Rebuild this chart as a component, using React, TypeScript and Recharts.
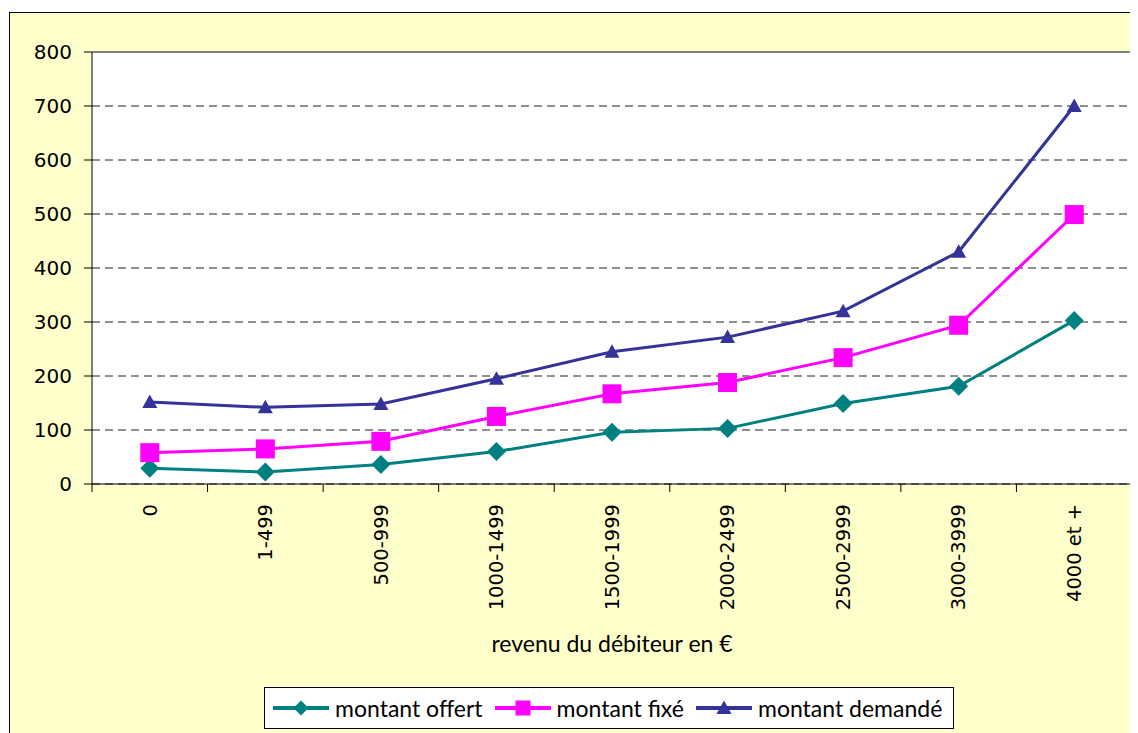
import React from 'react';
import { LineChart, Line, XAxis, YAxis, CartesianGrid, ReferenceLine } from 'recharts';

const categories = ['0', '1-499', '500-999', '1000-1499', '1500-1999', '2000-2499', '2500-2999', '3000-3999', '4000 et +'];
const montantOffert = [29, 22, 36, 60, 96, 103, 149, 181, 303];
const montantFixe = [58, 65, 79, 125, 167, 188, 234, 294, 499];
const montantDemande = [152, 142, 148, 195, 245, 272, 320, 430, 700];
const yTicks = [0, 100, 200, 300, 400, 500, 600, 700, 800];

const TEAL = '#008080';
const MAGENTA = '#FF00FF';
const NAVY = '#333399';

const data = categories.map((c, i) => ({
  cat: c,
  offert: montantOffert[i],
  fixe: montantFixe[i],
  demande: montantDemande[i],
}));

const Diamond = ({ cx, cy, s = 9.5, color }: any) => (
  <polygon points={`${cx},${cy - s} ${cx + s},${cy} ${cx},${cy + s} ${cx - s},${cy}`} fill={color} />
);
const Square = ({ cx, cy, s = 9.5, color }: any) => (
  <rect x={cx - s} y={cy - s} width={s * 2} height={s * 2} fill={color} />
);
const Triangle = ({ cx, cy, s = 7.5, color }: any) => (
  <polygon points={`${cx},${cy - s} ${cx + s},${cy + s * 0.8} ${cx - s},${cy + s * 0.8}`} fill={color} />
);

const XTick = (props: any) => {
  const { x, y, payload, index } = props;
  const half = payload && payload.offset ? payload.offset : 0;
  const axisY = y - 20;
  return (
    <g>
      <line x1={x - half} y1={axisY} x2={x - half} y2={axisY + 8} stroke="#000" />
      {index === categories.length - 1 && (
        <line x1={x + half} y1={axisY} x2={x + half} y2={axisY + 8} stroke="#000" />
      )}
      <text
        x={x}
        y={y}
        dy="0.35em"
        textAnchor="end"
        transform={`rotate(-90, ${x}, ${y})`}
        fontFamily="DejaVu Sans"
        fontSize={19.5}
        fill="#000"
      >
        {payload.value}
      </text>
    </g>
  );
};

const LegendItem = ({ color, label, Shape }: any) => (
  <div style={{ display: 'flex', alignItems: 'center', marginRight: 12 }}>
    <svg width={56} height={22}>
      <line x1={0} y1={11} x2={56} y2={11} stroke={color} strokeWidth={4} />
      <Shape cx={28} cy={11} color={color} s={7.5} />
    </svg>
    <span style={{ marginLeft: 6 }}>{label}</span>
  </div>
);

export default function App() {
  return (
    <div style={{ position: 'relative', width: 1130, height: 725, overflow: 'hidden' }}>
      <div
        style={{
          position: 'absolute',
          left: 1,
          top: 4,
          width: 1150,
          height: 760,
          background: '#FFFFCC',
          border: '1px solid #000',
        }}
      />
      <div style={{ position: 'absolute', left: 0, top: 0 }}>
        <LineChart width={1130} height={725} data={data} margin={{ top: 44, right: 6, left: 24, bottom: 69 }}>
          <CartesianGrid
            vertical={false}
            stroke="#202020"
            strokeDasharray="8 5"
            fill="#FFFFFF"
            fillOpacity={1}
          />
          <ReferenceLine y={800} stroke="#808080" strokeWidth={2} />
          <XAxis
            dataKey="cat"
            scale="band"
            interval={0}
            height={180}
            tickLine={false}
            tickSize={8}
            tickMargin={12}
            axisLine={{ stroke: '#000' }}
            tick={<XTick />}
            label={{
              value: 'revenu du débiteur en €',
              position: 'insideBottom',
              offset: 12,
              fill: '#000',
              fontFamily: 'Lato, Noto Sans, sans-serif',
              fontSize: 23,
            }}
          />
          <YAxis
            domain={[0, 800]}
            ticks={yTicks}
            width={60}
            tickSize={8}
            tickMargin={12}
            axisLine={{ stroke: '#000' }}
            tickLine={{ stroke: '#000' }}
            tick={{ fill: '#000', fontFamily: 'DejaVu Sans', fontSize: 20 }}
          />
          <YAxis
            yAxisId="right"
            orientation="right"
            width={0}
            domain={[0, 800]}
            tick={false}
            tickLine={false}
            axisLine={{ stroke: '#808080', strokeWidth: 2 }}
          />
          <Line
            dataKey="offert"
            stroke={TEAL}
            strokeWidth={3}
            isAnimationActive={false}
            dot={(p: any) => <Diamond key={`o${p.index}`} cx={p.cx} cy={p.cy} color={TEAL} />}
          />
          <Line
            dataKey="fixe"
            stroke={MAGENTA}
            strokeWidth={3}
            isAnimationActive={false}
            dot={(p: any) => <Square key={`f${p.index}`} cx={p.cx} cy={p.cy} color={MAGENTA} />}
          />
          <Line
            dataKey="demande"
            stroke={NAVY}
            strokeWidth={3}
            isAnimationActive={false}
            dot={(p: any) => <Triangle key={`d${p.index}`} cx={p.cx} cy={p.cy} color={NAVY} />}
          />
        </LineChart>
      </div>
      <div
        style={{
          position: 'absolute',
          left: 256,
          top: 679,
          width: 690,
          height: 42,
          background: '#FFFFFF',
          border: '1px solid #000',
          display: 'flex',
          alignItems: 'center',
          paddingLeft: 8,
          boxSizing: 'border-box',
          fontFamily: 'Lato, Noto Sans, sans-serif',
          fontSize: 23,
          color: '#000',
          whiteSpace: 'nowrap',
        }}
      >
        <LegendItem color={TEAL} label="montant offert" Shape={Diamond} />
        <LegendItem color={MAGENTA} label="montant fixé" Shape={Square} />
        <LegendItem color={NAVY} label="montant demandé" Shape={Triangle} />
      </div>
    </div>
  );
}
